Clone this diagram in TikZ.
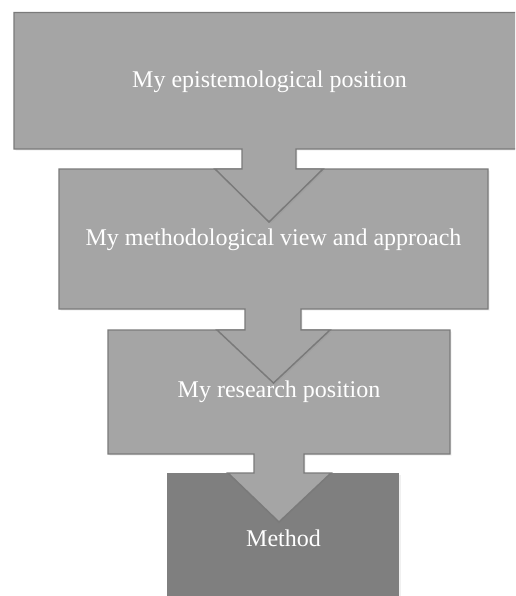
\documentclass[tikz,border=0pt]{standalone}
\usepackage{fontspec}
\setmainfont{Liberation Serif}
\usetikzlibrary{shadows}
\definecolor{boxfill}{HTML}{A5A5A5}
\definecolor{boxline}{HTML}{7A7A7A}
\definecolor{darkfill}{HTML}{7F7F7F}
\begin{document}
\begin{tikzpicture}[x=0.75pt,y=-0.75pt,
  callout/.style={fill=boxfill, draw=boxline, line width=1.1pt, line join=miter,
    drop shadow={opacity=0.12, shadow xshift=1.2pt, shadow yshift=-1.2pt}},
  darkbox/.style={fill=darkfill,
    drop shadow={opacity=0.12, shadow xshift=1.2pt, shadow yshift=-1.2pt}},
  lbl/.style={text=white, font=\fontsize{18}{21}\selectfont, inner sep=0pt},
]
\useasboundingbox (0,0) rectangle (515,596);
\clip (0,0) rectangle (515,596);
% box 4
\path[darkbox] (167,473) rectangle (399,604);
\node[lbl] (m) at (283.5,538) {Method};
% box 3 with arrow into box 4
\path[callout] (108,330) -- (450,330) -- (450,454) -- (304,454) -- (304,473)
  -- (331,473) -- (279,522) -- (228,473) -- (254,473) -- (254,454)
  -- (108,454) -- cycle;
\node[lbl] (r) at (279,392) {My research position};
% box 2 with arrow into box 3
\path[callout] (59,169) -- (488,169) -- (488,309) -- (301,309) -- (301,330)
  -- (330,330) -- (273.5,383) -- (217,330) -- (245,330) -- (245,309)
  -- (59,309) -- cycle;
\node[lbl] (v) at (273.5,240) {My methodological view and approach};
% box 1 with arrow into box 2
\path[callout] (14,12.5) -- (525,12.5) -- (525,149) -- (296,149) -- (296,169)
  -- (323,169) -- (269,222) -- (215,169) -- (242,169) -- (242,149)
  -- (14,149) -- cycle;
\node[lbl] (e) at (269.5,82) {My epistemological position};
\end{tikzpicture}
\end{document}
